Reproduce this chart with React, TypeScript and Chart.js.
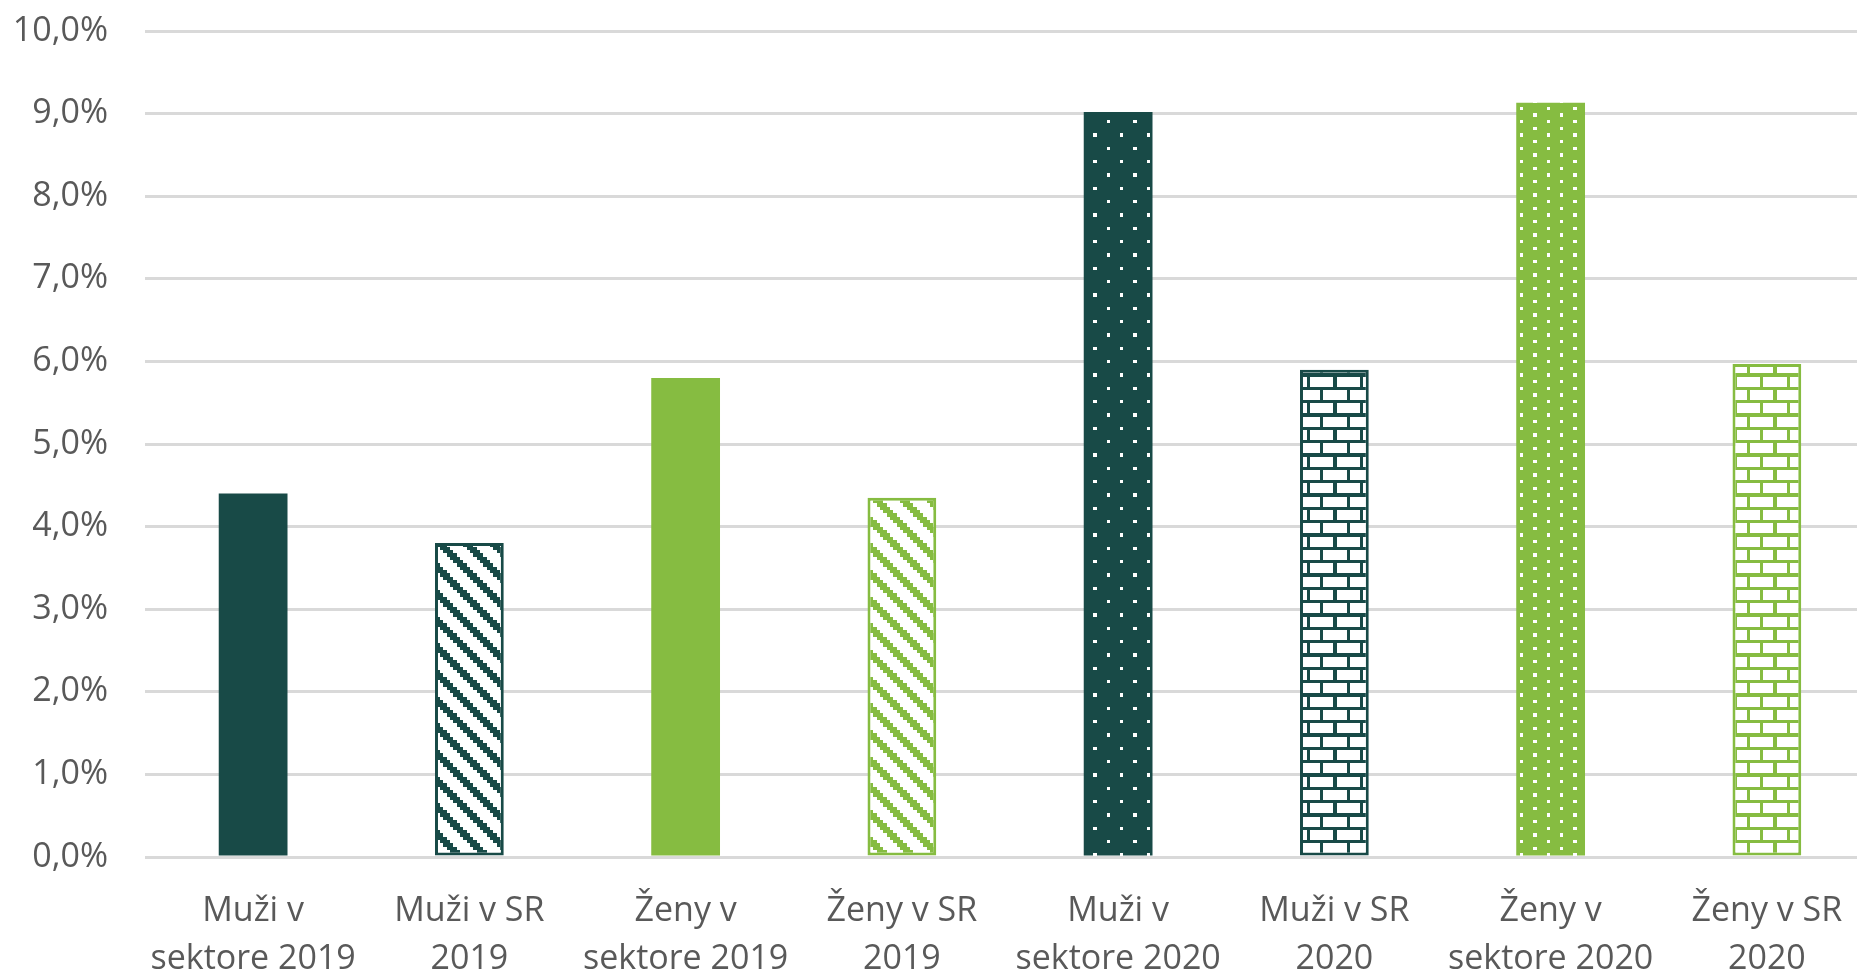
import React, { useEffect, useRef } from "react";
import { Chart, registerables } from "chart.js";

Chart.register(...registerables);

const categories: string[][] = [
  ["Muži v", "sektore 2019"],
  ["Muži v SR", "2019"],
  ["Ženy v", "sektore 2019"],
  ["Ženy v SR", "2019"],
  ["Muži v", "sektore 2020"],
  ["Muži v SR", "2020"],
  ["Ženy v", "sektore 2020"],
  ["Ženy v SR", "2020"],
];
const values: number[] = [4.4, 3.8, 5.8, 4.35, 9.02, 5.9, 9.13, 5.97];
const yMin = 0;
const yMax = 10;
const yStep = 1;

const DARK = "#184A47";
const GREEN = "#86BC41";
const WHITE = "#FFFFFF";

const PAT_STRIPE = ["11100000", "01110000", "00111000", "00011100", "00001110", "00000111", "10000011", "11000001"];
const PAT_DOT5 = ["10000000", "00000000", "00000000", "00000000", "00001000", "00000000", "00000000", "00000000"];
const PAT_DOT10 = ["10000000", "00000000", "00001000", "00000000", "10000000", "00000000", "00001000", "00000000"];
const PAT_BRICK = ["11111111", "10000000", "10000000", "10000000", "11111111", "00001000", "00001000", "00001000"];

function makePattern(ctx: CanvasRenderingContext2D, rows: string[], fg: string, bg: string): CanvasPattern | string {
  const reps = 3;
  const size = 80;
  const n = 8 * reps;
  const c = document.createElement("canvas");
  c.width = size;
  c.height = size;
  const g = c.getContext("2d");
  if (!g) return fg;
  g.fillStyle = bg;
  g.fillRect(0, 0, size, size);
  g.fillStyle = fg;
  const cell = size / n;
  for (let y = 0; y < n; y++) {
    for (let x = 0; x < n; x++) {
      if (rows[y % 8][x % 8] === "1") {
        const x0 = Math.round(x * cell);
        const x1 = Math.round((x + 1) * cell);
        const y0 = Math.round(y * cell);
        const y1 = Math.round((y + 1) * cell);
        g.fillRect(x0, y0, x1 - x0, y1 - y0);
      }
    }
  }
  return ctx.createPattern(c, "repeat") || fg;
}

export default function App() {
  const ref = useRef<HTMLCanvasElement | null>(null);

  useEffect(() => {
    const canvas = ref.current;
    if (!canvas) return;
    const ctx = canvas.getContext("2d");
    if (!ctx) return;

    const bg = [
      DARK,
      makePattern(ctx, PAT_STRIPE, DARK, WHITE),
      GREEN,
      makePattern(ctx, PAT_STRIPE, GREEN, WHITE),
      makePattern(ctx, PAT_DOT5, WHITE, DARK),
      makePattern(ctx, PAT_BRICK, DARK, WHITE),
      makePattern(ctx, PAT_DOT10, WHITE, GREEN),
      makePattern(ctx, PAT_BRICK, GREEN, WHITE),
    ];
    const borders = [DARK, DARK, GREEN, GREEN, DARK, DARK, GREEN, GREEN];
    const bw = [0, 3, 0, 3, 0, 3, 0, 3];

    const font = { family: "'Open Sans', sans-serif", size: 34, lineHeight: 1.41 };

    const chart = new Chart(ctx, {
      type: "bar",
      data: {
        labels: categories,
        datasets: [
          {
            data: values,
            backgroundColor: bg as any,
            borderColor: borders,
            borderWidth: bw,
            borderSkipped: false,
            barPercentage: 0.318,
            categoryPercentage: 1,
          },
        ],
      },
      options: {
        animation: false,
        responsive: false,
        devicePixelRatio: 1,
        layout: { padding: { top: 31, left: 0, right: 0, bottom: 0 } },
        plugins: {
          legend: { display: false },
          tooltip: { enabled: false },
          title: { display: false },
        },
        scales: {
          x: {
            grid: { display: false, drawTicks: false },
            border: { display: false },
            ticks: {
              color: "#595959",
              font,
              padding: 30,
              maxRotation: 0,
              autoSkip: false,
            },
            afterFit: (s: any) => {
              s.height = 973 - 857;
              s.paddingLeft = 0;
              s.paddingRight = 0;
            },
          },
          y: {
            min: yMin,
            max: yMax,
            grid: { color: "#D9D9D9", lineWidth: 3, drawTicks: false },
            border: { display: false },
            ticks: {
              stepSize: yStep,
              color: "#595959",
              font: { family: "'Open Sans', sans-serif", size: 34 },
              padding: 37,
              callback: (v: any) => Number(v).toFixed(1).replace(".", ",") + "%",
            },
            afterFit: (s: any) => {
              s.width = 145;
              s.paddingTop = 0;
              s.paddingBottom = 0;
            },
          },
        },
      },
    });
    return () => chart.destroy();
  }, []);

  return (
    <div
      style={{
        position: "fixed",
        left: 0,
        top: 0,
        width: 1857,
        height: 973,
        overflow: "hidden",
        background: "#FFFFFF",
      }}
    >
      <canvas ref={ref} width={1875} height={973} style={{ width: 1875, height: 973, display: "block" }} />
    </div>
  );
}
